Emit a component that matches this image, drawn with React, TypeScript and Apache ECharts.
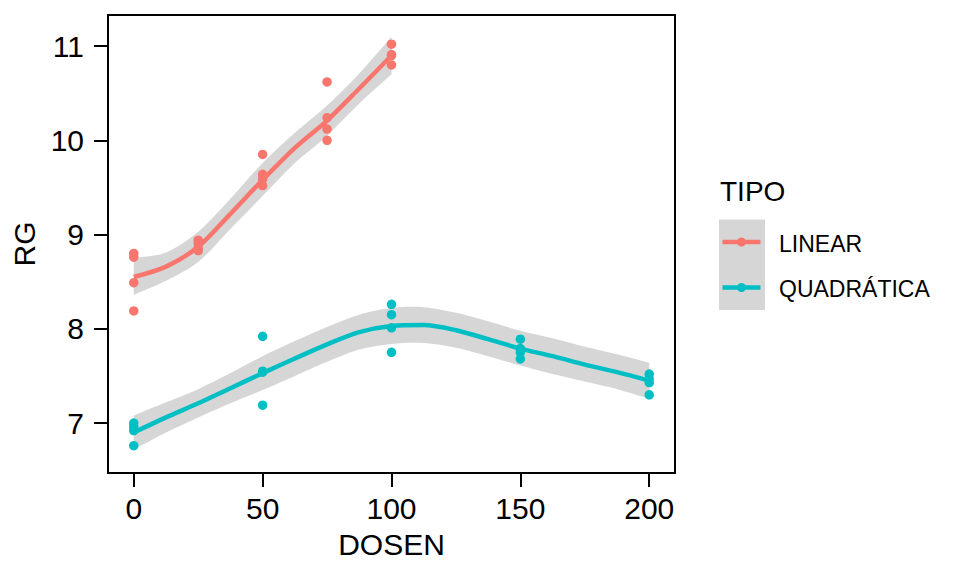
import React, { useEffect, useRef } from "react";
import * as echarts from "echarts";

// ---- data ----
const xTicks = [0, 50, 100, 150, 200];
const yTicks = [7, 8, 9, 10, 11];

const linPtsX = [0, 0, 0, 0, 25, 25, 25, 25, 50, 50, 50, 50, 75, 75, 75, 75, 100, 100, 100, 100];
const linPtsY = [8.80, 8.76, 8.49, 8.19, 8.94, 8.91, 8.83, 8.86, 9.85, 9.64, 9.59, 9.52, 10.62, 10.24, 10.12, 10.00, 11.02, 10.91, 10.90, 10.80];

const quadPtsX = [0, 0, 0, 0, 50, 50, 50, 50, 100, 100, 100, 100, 150, 150, 150, 150, 200, 200, 200, 200];
const quadPtsY = [7.00, 6.96, 6.92, 6.76, 7.92, 7.55, 7.54, 7.19, 8.26, 8.15, 8.01, 7.75, 7.89, 7.79, 7.75, 7.68, 7.52, 7.47, 7.43, 7.30];

const linFitX = [0, 12.5, 25, 37.5, 50, 62.5, 75, 87.5, 100];
const linFit = [8.55, 8.66, 8.87, 9.22, 9.58, 9.92, 10.21, 10.55, 10.90];
const linLo = [8.36, 8.51, 8.71, 9.06, 9.41, 9.76, 10.05, 10.39, 10.70];
const linHi = [8.75, 8.81, 9.03, 9.38, 9.76, 10.08, 10.37, 10.71, 11.10];

const quadFitX = [0, 12.5, 25, 37.5, 50, 62.5, 75, 87.5, 100, 112.5, 125, 137.5, 150, 162.5, 175, 187.5, 200];
const quadFit = [6.90, 7.06, 7.21, 7.37, 7.53, 7.685, 7.835, 7.965, 8.03, 8.04, 7.985, 7.89, 7.79, 7.71, 7.62, 7.54, 7.45];
const quadLo = [6.72, 6.90, 7.06, 7.21, 7.35, 7.50, 7.65, 7.78, 7.84, 7.85, 7.80, 7.71, 7.61, 7.52, 7.44, 7.36, 7.26];
const quadHi = [7.08, 7.22, 7.36, 7.53, 7.71, 7.87, 8.02, 8.15, 8.22, 8.23, 8.17, 8.08, 7.98, 7.90, 7.81, 7.73, 7.64];

const seriesNames = ["LINEAR", "QUADRÁTICA"];
const colors = ["#F8766D", "#00BFC4"];

const FONT = "Liberation Sans, Arial, sans-serif";
const BAND = "rgba(153,153,153,0.4)";
const SMOOTH = 0.3;

function zip(xs: number[], ys: number[]) {
  return xs.map((x, i) => [x, ys[i]]);
}

// confidence band: smooth polygon, corners duplicated so the ends stay straight
function bandSeries(xs: number[], lo: number[], hi: number[]) {
  return {
    type: "custom",
    silent: true,
    data: [[xs[0], lo[0]]],
    renderItem: (params: any, api: any) => {
      if (params.dataIndex !== 0) return null;
      const top = xs.map((x, i) => api.coord([x, hi[i]]));
      const bot = xs.map((x, i) => api.coord([x, lo[i]])).reverse();
      const dup = (arr: number[][]) => [arr[0], ...arr, arr[arr.length - 1]];
      return {
        type: "polygon",
        shape: {
          points: dup(top).concat(dup(bot)),
          smooth: SMOOTH,
          smoothConstraint: false,
        },
        style: { fill: BAND, stroke: "none" },
      };
    },
  };
}

export default function App() {
  const ref = useRef<HTMLDivElement>(null);
  useEffect(() => {
    if (!ref.current) return;
    const chart = echarts.init(ref.current, null, { renderer: "svg" });
    const keyY = [242, 287.5];
    const legendGraphics: any[] = [
      {
        type: "text",
        left: 720,
        top: 177,
        style: { text: "TIPO", fontSize: 28, fontFamily: FONT, fill: "#000" },
      },
      {
        type: "rect",
        shape: { x: 719, y: 219.5, width: 46, height: 90.5 },
        style: { fill: "#D6D6D6" },
      },
    ];
    seriesNames.forEach((name, i) => {
      legendGraphics.push(
        {
          type: "line",
          shape: { x1: 722.5, y1: keyY[i], x2: 760.5, y2: keyY[i] },
          style: { stroke: colors[i], lineWidth: 4.5 },
        },
        {
          type: "circle",
          shape: { cx: 741.5, cy: keyY[i], r: 4.5 },
          style: { fill: colors[i] },
        },
        {
          type: "text",
          x: 779,
          y: keyY[i] + 1.5,
          style: {
            text: name,
            fontSize: 23,
            fontFamily: FONT,
            fill: "#000",
            verticalAlign: "middle",
            align: "left",
          },
        }
      );
    });

    chart.setOption({
      animation: false,
      backgroundColor: "#fff",
      grid: {
        left: 108,
        top: 15,
        width: 567,
        height: 458,
        show: true,
        borderColor: "#000",
        borderWidth: 2,
        backgroundColor: "transparent",
      },
      xAxis: {
        type: "value",
        min: -10,
        max: 210,
        name: "DOSEN",
        nameLocation: "middle",
        nameGap: 56,
        nameTextStyle: { fontSize: 30, fontFamily: FONT, color: "#000" },
        axisLine: { show: false, onZero: false },
        splitLine: { show: false },
        axisTick: {
          show: true,
          length: 14,
          customValues: xTicks,
          lineStyle: { color: "#000", width: 2 },
        },
        axisLabel: {
          customValues: xTicks,
          fontSize: 30,
          fontFamily: FONT,
          color: "#000",
          margin: 20,
        },
      },
      yAxis: {
        type: "value",
        min: 6.47,
        max: 11.33,
        name: "RG",
        nameLocation: "middle",
        nameGap: 62,
        nameRotate: 90,
        nameTextStyle: { fontSize: 30, fontFamily: FONT, color: "#000" },
        axisLine: { show: false, onZero: false },
        splitLine: { show: false },
        axisTick: {
          show: true,
          length: 14,
          customValues: yTicks,
          lineStyle: { color: "#000", width: 2 },
        },
        axisLabel: {
          customValues: yTicks,
          fontSize: 30,
          fontFamily: FONT,
          color: "#000",
          margin: 24,
        },
      },
      graphic: legendGraphics,
      series: [
        {
          type: "scatter",
          name: seriesNames[0],
          data: zip(linPtsX, linPtsY),
          symbolSize: 9.5,
          itemStyle: { color: colors[0], opacity: 1 },
        },
        {
          type: "scatter",
          name: seriesNames[1],
          data: zip(quadPtsX, quadPtsY),
          symbolSize: 9.5,
          itemStyle: { color: colors[1], opacity: 1 },
        },
        bandSeries(linFitX, linLo, linHi),
        bandSeries(quadFitX, quadLo, quadHi),
        {
          type: "line",
          data: zip(linFitX, linFit),
          smooth: SMOOTH,
          showSymbol: false,
          symbol: "none",
          lineStyle: { color: colors[0], width: 4.5 },
          silent: true,
        },
        {
          type: "line",
          data: zip(quadFitX, quadFit),
          smooth: SMOOTH,
          showSymbol: false,
          symbol: "none",
          lineStyle: { color: colors[1], width: 4.5 },
          silent: true,
        },
      ],
    });
    return () => chart.dispose();
  }, []);
  return (
    <div
      ref={ref}
      style={{ position: "fixed", left: 0, top: 0, width: 960, height: 576 }}
    />
  );
}
